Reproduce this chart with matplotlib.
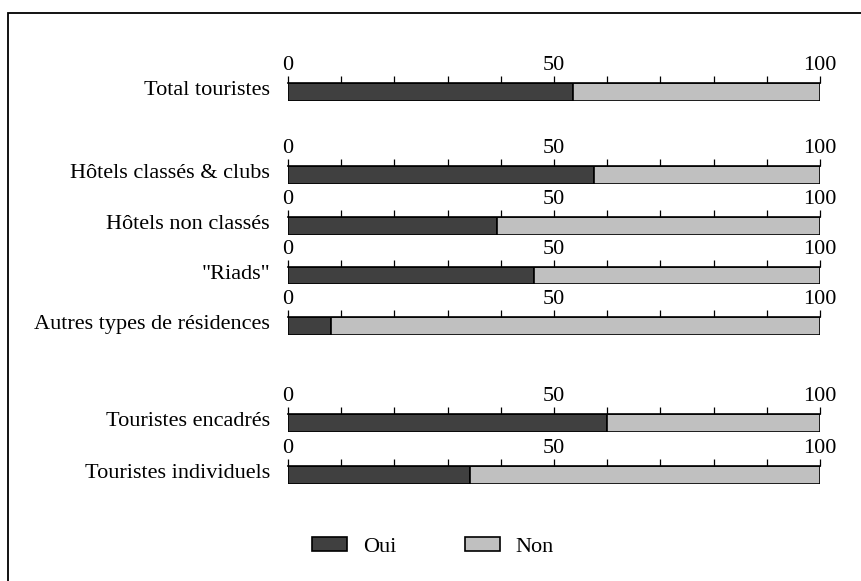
import numpy as np
import matplotlib
matplotlib.use("Agg")
import matplotlib.pyplot as plt
from matplotlib.patches import Patch, Rectangle

# data (% of tourists)
categories = ["Total touristes", "Hôtels classés & clubs", "Hôtels non classés",
              "\"Riads\"", "Autres types de résidences",
              "Touristes encadrés", "Touristes individuels"]
oui = [53.6, 57.5, 39.3, 46.3, 8.1, 60.0, 34.2]
non = [100 - v for v in oui]
series_labels = ["Oui", "Non"]

# pixel top of each bar row
row_tops = [83, 166, 217, 267, 317, 414, 466]
bar_h = 17.5

W, H = 861, 581
plt.rcParams["font.family"] = ["Liberation Serif", "DejaVu Serif"]
fs = 16

fig = plt.figure(figsize=(W / 100, H / 100), dpi=100)
c_oui, c_non = "#404040", "#c0c0c0"

for name, o, n, top in zip(categories, oui, non, row_tops):
    ax = fig.add_axes([288 / W, 1 - (top + bar_h) / H, 532 / W, bar_h / H])
    ax.barh([0], [o], height=1, color=c_oui, edgecolor="black", linewidth=1.2)
    ax.barh([0], [n], left=[o], height=1, color=c_non, edgecolor="black", linewidth=1.2)
    ax.set_xlim(0, 100)
    ax.set_ylim(-0.5, 0.5)
    ax.set_yticks([])
    ax.xaxis.tick_top()
    ax.set_xticks([0, 50, 100])
    ax.set_xticks(np.arange(0, 101, 10), minor=True)
    ax.tick_params(axis="x", which="both", direction="out", length=5, width=0.9,
                   labelsize=fs, pad=1)
    for s in ["left", "right", "bottom"]:
        ax.spines[s].set_visible(False)
    ax.spines["top"].set_linewidth(1.2)
    # row label, right-aligned just left of the axis
    ax.text(-3.4, 0.3, name, transform=ax.get_xaxis_transform(), ha="right",
            va="baseline", fontsize=fs)

handles = [Patch(facecolor=c_oui, edgecolor="black", linewidth=1.2),
           Patch(facecolor=c_non, edgecolor="black", linewidth=1.2)]
fig.legend(handles, series_labels, loc="center left", bbox_to_anchor=(312 / W, 1 - 547 / H),
           ncol=2, frameon=False, fontsize=fs, handlelength=1.58, handleheight=0.58,
           handletextpad=0.7, columnspacing=3.1, borderpad=0, borderaxespad=0)

fig.patches.append(Rectangle((8 / W, -0.1), 1.2, 1.1 - 13 / H, transform=fig.transFigure,
                             fill=False, edgecolor="black", linewidth=1.3))

fig.savefig("out.png", dpi=100)
